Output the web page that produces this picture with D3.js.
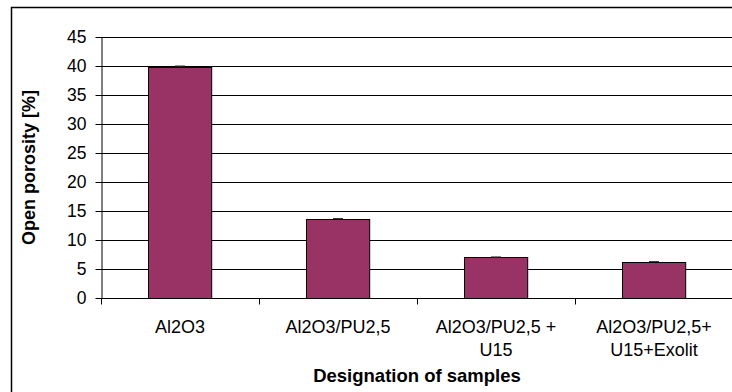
<!DOCTYPE html>
<html><head><meta charset="utf-8">
<script src="https://cdn.jsdelivr.net/npm/d3@7"></script>
<style>body{margin:0;background:#fff}svg{display:block}text{font-family:"Liberation Sans",Arial,sans-serif}</style>
</head><body>
<script>
const categories = [["Al2O3"], ["Al2O3/PU2,5"], ["Al2O3/PU2,5 +", "U15"], ["Al2O3/PU2,5+", "U15+Exolit"]];
const values = [39.9, 13.6, 7.0, 6.2];
const errors = [0.1, 0.1, 0.08, 0.08];
const yTicks = [0, 5, 10, 15, 20, 25, 30, 35, 40, 45];
const yTitle = "Open porosity [%]";
const xTitle = "Designation of samples";

(function () {
const W = 732, H = 392;
const svg = d3.select("body").append("svg").attr("width", W).attr("height", H);
svg.append("rect").attr("x", 11.5).attr("y", 7.5).attr("width", 740).attr("height", 420)
  .attr("fill", "#fff").attr("stroke", "#000").attr("stroke-width", 1.5);

const pL = 101, pR = 733, pT = 37, pB = 298;
const x = d3.scaleBand().domain(d3.range(values.length)).range([pL, pR]).paddingInner(0.6).paddingOuter(0.3);
const xb = d3.scaleBand().domain(d3.range(values.length)).range([pL, pR]);
const y = d3.scaleLinear().domain([0, 45]).range([pB, pT]);

// gridlines
svg.append("g").selectAll("line").data(yTicks.filter(t => t > 0)).join("line")
  .attr("x1", pL).attr("x2", pR)
  .attr("y1", d => Math.round(y(d)) + 0.5).attr("y2", d => Math.round(y(d)) + 0.5)
  .attr("stroke", "#000").attr("stroke-width", 1);

// y axis
const ya = svg.append("g").attr("transform", `translate(${pL + 0.5},0)`)
  .call(d3.axisLeft(y).tickValues(yTicks).tickSize(6).tickPadding(9).tickSizeOuter(0));
ya.select(".domain").attr("stroke", "#000");
ya.selectAll(".tick line").attr("stroke", "#000");
ya.selectAll(".tick").attr("transform", d => `translate(0,${Math.round(y(d)) + 0.5})`);
ya.selectAll("text").attr("font-size", 17.5).attr("fill", "#000").attr("font-family", "Liberation Sans, Arial, sans-serif");

// bars
svg.append("g").selectAll("rect").data(values).join("rect")
  .attr("x", (d, i) => Math.round(x(i)) + 0.5)
  .attr("y", d => Math.round(y(d)) + 0.5)
  .attr("width", x.bandwidth())
  .attr("height", d => Math.round(y(0)) - Math.round(y(d)))
  .attr("fill", "#993366").attr("stroke", "#000").attr("stroke-width", 1);

// error bars
const eg = svg.append("g").attr("stroke", "#333").attr("stroke-width", 1);
values.forEach((v, i) => {
  const cx = x(i) + x.bandwidth() / 2;
  eg.append("line").attr("x1", cx).attr("x2", cx).attr("y1", y(v + errors[i])).attr("y2", y(v - errors[i]));
  eg.append("line").attr("x1", cx - 5).attr("x2", cx + 5).attr("y1", y(v + errors[i])).attr("y2", y(v + errors[i]));
});

// x axis
const xa = svg.append("g").attr("transform", `translate(0,${Math.round(y(0)) + 0.5})`);
xa.append("line").attr("x1", pL).attr("x2", pR).attr("stroke", "#000");
xa.selectAll(".xt").data(d3.range(values.length)).join("line")
  .attr("x1", i => Math.round(xb(i)) + 0.5).attr("x2", i => Math.round(xb(i)) + 0.5)
  .attr("y1", 0).attr("y2", 6).attr("stroke", "#000");

// category labels
const lg = svg.append("g");
categories.forEach((lines, i) => {
  const cx = xb(i) + xb.bandwidth() / 2;
  lines.forEach((t, j) => {
    lg.append("text").attr("x", cx).attr("y", 333 + j * 23).attr("text-anchor", "middle")
      .attr("font-size", 18).attr("fill", "#000").text(t);
  });
});

// titles
svg.append("text").attr("x", (pL + pR) / 2).attr("y", 382).attr("text-anchor", "middle")
  .attr("font-size", 18.5).attr("font-weight", "bold").text(xTitle);
svg.append("text").attr("transform", `translate(35,${(pT + pB) / 2}) rotate(-90)`)
  .attr("text-anchor", "middle").attr("font-size", 18).attr("font-weight", "bold").text(yTitle);
})();
</script>
</body></html>
